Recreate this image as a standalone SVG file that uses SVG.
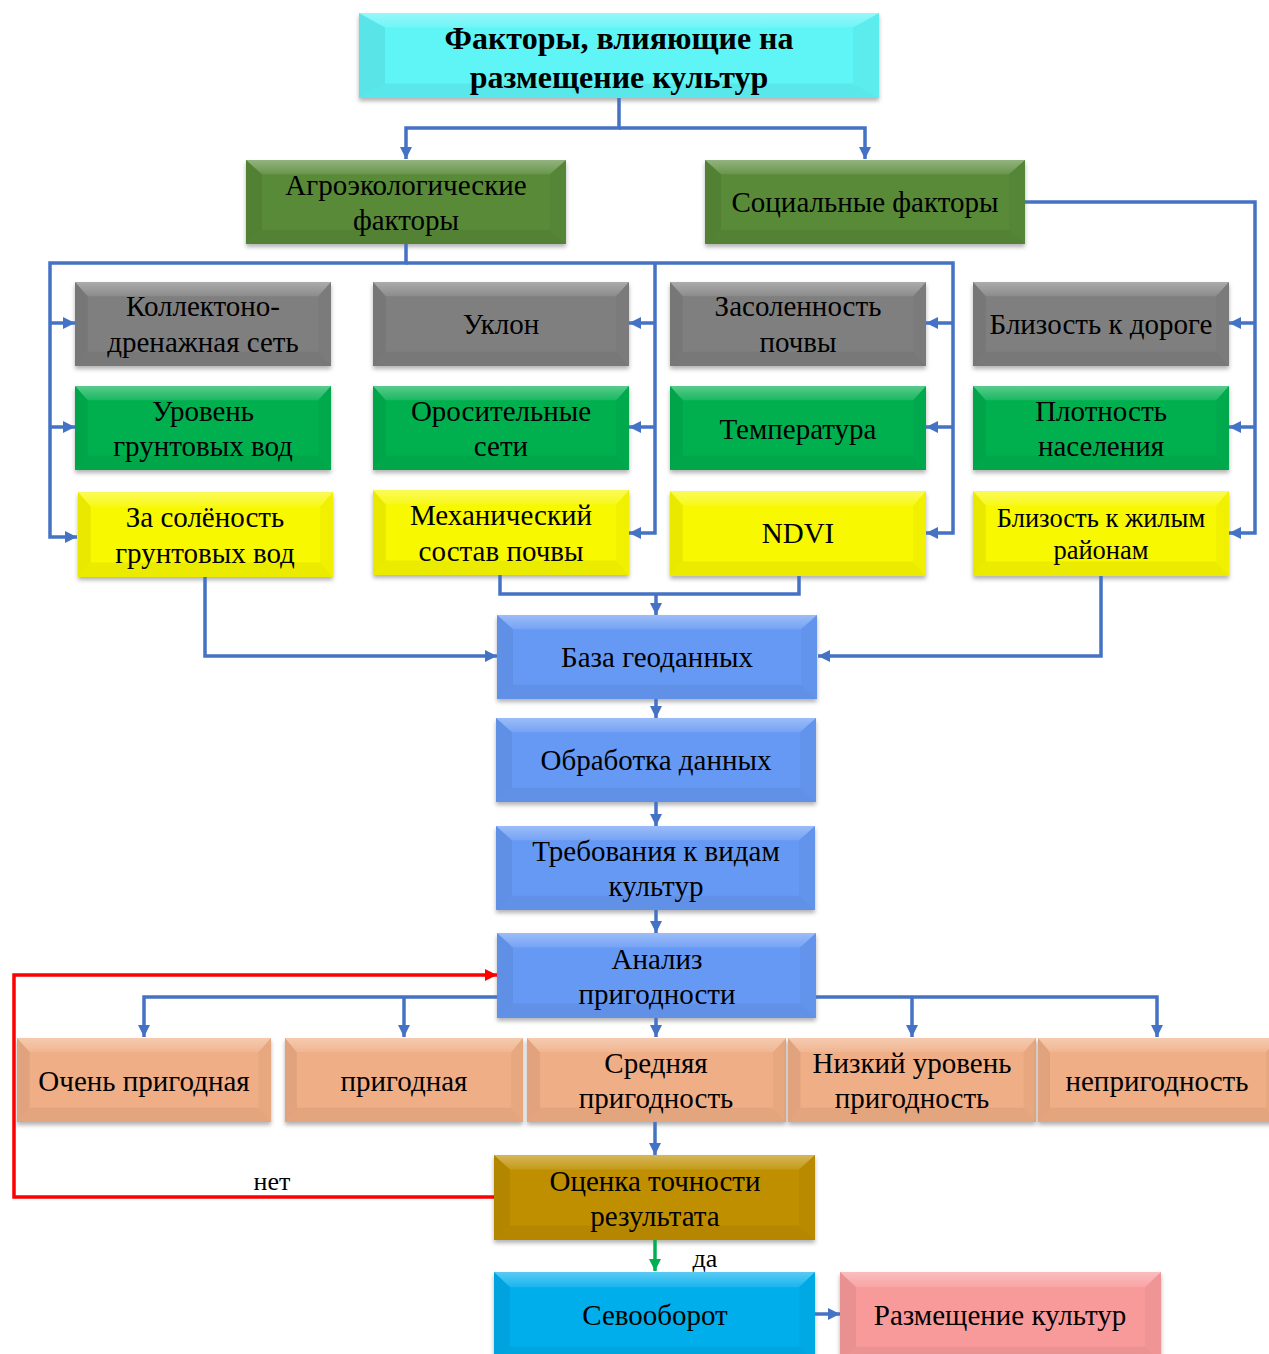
<svg xmlns="http://www.w3.org/2000/svg" xmlns:xlink="http://www.w3.org/1999/xlink" width="1269" height="1354" viewBox="0 0 1269 1354">
<style>
.t{font-family:"Liberation Serif","Times New Roman",serif;font-size:29px;text-anchor:middle;fill:#000}
.tb{font-weight:bold;font-size:32px}
.c{fill:none;stroke:#4472C4;stroke-width:3.5}
.ca{fill:none;stroke:#4472C4;stroke-width:3.5;marker-end:url(#ab)}
.box{filter:url(#sh)}
.cyan{fill:#5FF4F6}.olive{fill:#588A37}.gray{fill:#7F7F7F}.green{fill:#00B050}.yellow{fill:#F8F800}
.blue{fill:#6699F4}.peach{fill:#EFAE85}.gold{fill:#BF8F00}.sky{fill:#00AEEC}.pink{fill:#F89A9A}
</style>
<defs>
<filter id="sh" x="-5%" y="-10%" width="110%" height="130%"><feDropShadow dx="0" dy="3" stdDeviation="2" flood-color="#000" flood-opacity="0.3"/></filter>
<linearGradient id="topg" x1="0" y1="0" x2="0" y2="1"><stop offset="0" stop-color="#fff" stop-opacity="0.35"/><stop offset="1" stop-color="#fff" stop-opacity="0.1"/></linearGradient>
<symbol id="bv" viewBox="0 0 100 100" preserveAspectRatio="none">
<polygon points="0,0 100,0 95,17 5,17" fill="url(#topg)"/>
<polygon points="0,100 100,100 95,83 5,83" fill="#000" fill-opacity="0.05"/>
<polygon points="0,0 5,17 5,83 0,100" fill="#000" fill-opacity="0.06"/>
<polygon points="100,0 95,17 95,83 100,100" fill="#000" fill-opacity="0.03"/>
</symbol>
<marker id="ab" viewBox="0 0 12 12" refX="12" refY="6" markerWidth="12" markerHeight="12" markerUnits="userSpaceOnUse" orient="auto"><path d="M0,0 L12,6 L0,12 z" fill="#4472C4"/></marker>
<marker id="ar" viewBox="0 0 12 12" refX="12" refY="6" markerWidth="12" markerHeight="12" markerUnits="userSpaceOnUse" orient="auto"><path d="M0,0 L12,6 L0,12 z" fill="#FF0000"/></marker>
<marker id="ag" viewBox="0 0 12 12" refX="12" refY="6" markerWidth="12" markerHeight="12" markerUnits="userSpaceOnUse" orient="auto"><path d="M0,0 L12,6 L0,12 z" fill="#00B050"/></marker>
</defs>

<g id="title"><rect class="box cyan" x="359" y="13" width="520" height="85"/><use href="#bv" x="359" y="13" width="520" height="85"/>
<text class="t tb" x="619" y="49">Факторы, влияющие на</text><text class="t tb" x="619" y="88">размещение культур</text></g>

<g id="agro"><rect class="box olive" x="246" y="160" width="320" height="84"/><use href="#bv" x="246" y="160" width="320" height="84"/>
<text class="t" x="406" y="195">Агроэкологические</text><text class="t" x="406" y="230">факторы</text></g>
<g id="social"><rect class="box olive" x="705" y="160" width="320" height="84"/><use href="#bv" x="705" y="160" width="320" height="84"/>
<text class="t" x="865" y="212">Социальные факторы</text></g>

<g id="kollektor"><rect class="box gray" x="75" y="282" width="256" height="84"/><use href="#bv" x="75" y="282" width="256" height="84"/>
<text class="t" x="203" y="316">Коллектоно-</text><text class="t" x="203" y="352">дренажная сеть</text></g>
<g id="uklon"><rect class="box gray" x="373" y="282" width="256" height="84"/><use href="#bv" x="373" y="282" width="256" height="84"/>
<text class="t" x="501" y="334">Уклон</text></g>
<g id="zasol"><rect class="box gray" x="670" y="282" width="256" height="84"/><use href="#bv" x="670" y="282" width="256" height="84"/>
<text class="t" x="798" y="316">Засоленность</text><text class="t" x="798" y="352">почвы</text></g>
<g id="doroga"><rect class="box gray" x="973" y="282" width="256" height="84"/><use href="#bv" x="973" y="282" width="256" height="84"/>
<text class="t" x="1101" y="334">Близость к дороге</text></g>

<g id="uroven"><rect class="box green" x="75" y="386" width="256" height="84"/><use href="#bv" x="75" y="386" width="256" height="84"/>
<text class="t" x="203" y="421">Уровень</text><text class="t" x="203" y="456">грунтовых  вод</text></g>
<g id="orosit"><rect class="box green" x="373" y="386" width="256" height="84"/><use href="#bv" x="373" y="386" width="256" height="84"/>
<text class="t" x="501" y="421">Оросительные</text><text class="t" x="501" y="456">сети</text></g>
<g id="temp"><rect class="box green" x="670" y="386" width="256" height="84"/><use href="#bv" x="670" y="386" width="256" height="84"/>
<text class="t" x="798" y="439">Температура</text></g>
<g id="plotn"><rect class="box green" x="973" y="386" width="256" height="84"/><use href="#bv" x="973" y="386" width="256" height="84"/>
<text class="t" x="1101" y="421">Плотность</text><text class="t" x="1101" y="456">населения</text></g>

<g id="zasolgr"><rect class="box yellow" x="78" y="492" width="255" height="85"/><use href="#bv" x="78" y="492" width="255" height="85"/>
<text class="t" x="205" y="527">За солёность</text><text class="t" x="205" y="563">грунтовых  вод</text></g>
<g id="mech"><rect class="box yellow" x="373" y="490" width="256" height="85"/><use href="#bv" x="373" y="490" width="256" height="85"/>
<text class="t" x="501" y="525">Механический</text><text class="t" x="501" y="561">состав почвы</text></g>
<g id="ndvi"><rect class="box yellow" x="670" y="491" width="256" height="85"/><use href="#bv" x="670" y="491" width="256" height="85"/>
<text class="t" x="798" y="543">NDVI</text></g>
<g id="zhil"><rect class="box yellow" x="973" y="491" width="256" height="85"/><use href="#bv" x="973" y="491" width="256" height="85"/>
<text class="t" x="1101" y="527" style="font-size:26.5px">Близость к жилым</text><text class="t" x="1101" y="559" style="font-size:26.5px">районам</text></g>

<g id="baza"><rect class="box blue" x="497" y="615" width="320" height="84"/><use href="#bv" x="497" y="615" width="320" height="84"/>
<text class="t" x="657" y="667">База геоданных</text></g>
<g id="obrab"><rect class="box blue" x="496" y="718" width="320" height="84"/><use href="#bv" x="496" y="718" width="320" height="84"/>
<text class="t" x="656" y="770">Обработка данных</text></g>
<g id="treb"><rect class="box blue" x="496" y="826" width="319" height="84"/><use href="#bv" x="496" y="826" width="319" height="84"/>
<text class="t" x="656" y="861">Требования к видам</text><text class="t" x="656" y="896">культур</text></g>
<g id="analiz"><rect class="box blue" x="497" y="933" width="319" height="85"/><use href="#bv" x="497" y="933" width="319" height="85"/>
<text class="t" x="657" y="969">Анализ</text><text class="t" x="657" y="1004">пригодности</text></g>

<g id="ochen"><rect class="box peach" x="17" y="1038" width="254" height="84"/><use href="#bv" x="17" y="1038" width="254" height="84"/>
<text class="t" x="144" y="1091">Очень пригодная</text></g>
<g id="prig"><rect class="box peach" x="285" y="1038" width="238" height="84"/><use href="#bv" x="285" y="1038" width="238" height="84"/>
<text class="t" x="404" y="1091">пригодная</text></g>
<g id="sred"><rect class="box peach" x="527" y="1038" width="259" height="84"/><use href="#bv" x="527" y="1038" width="259" height="84"/>
<text class="t" x="656" y="1073">Средняя</text><text class="t" x="656" y="1108">пригодность</text></g>
<g id="nizk"><rect class="box peach" x="788" y="1038" width="248" height="84"/><use href="#bv" x="788" y="1038" width="248" height="84"/>
<text class="t" x="912" y="1073">Низкий уровень</text><text class="t" x="912" y="1108">пригодность</text></g>
<g id="neprig"><rect class="box peach" x="1038" y="1038" width="240" height="84"/><use href="#bv" x="1038" y="1038" width="240" height="84"/>
<text class="t" x="1157" y="1091">непригодность</text></g>

<g id="ocenka"><rect class="box gold" x="494" y="1155" width="321" height="85"/><use href="#bv" x="494" y="1155" width="321" height="85"/>
<text class="t" x="655" y="1191">Оценка точности</text><text class="t" x="655" y="1226">результата</text></g>
<g id="sevo"><rect class="box sky" x="494" y="1272" width="321" height="90"/><use href="#bv" x="494" y="1272" width="321" height="90"/>
<text class="t" x="655" y="1325">Севооборот</text></g>
<g id="razm"><rect class="box pink" x="840" y="1272" width="321" height="90"/><use href="#bv" x="840" y="1272" width="321" height="90"/>
<text class="t" x="1000" y="1325">Размещение культур</text></g>

<g id="connectors">
<path class="ca" d="M619,98 V128 H406 V159"/>
<path class="ca" d="M619,128 H865 V159"/>
<path class="ca" d="M406,244 V263 H50 V537 H77"/>
<path class="ca" d="M50,323 H75"/>
<path class="ca" d="M50,427 H75"/>
<path class="ca" d="M406,263 H953 V533 H926"/>
<path class="ca" d="M953,323 H926"/>
<path class="ca" d="M953,427 H926"/>
<path class="ca" d="M655,263 V533 H629"/>
<path class="ca" d="M655,323 H629"/>
<path class="ca" d="M655,427 H629"/>
<path class="ca" d="M1025,202 H1255 V533 H1229"/>
<path class="ca" d="M1255,323 H1229"/>
<path class="ca" d="M1255,427 H1229"/>
<path class="ca" d="M205,577 V656 H497"/>
<path class="ca" d="M1101,576 V656 H818"/>
<path class="c" d="M500,575 V594 H799 V576"/>
<path class="ca" d="M656,594 V615"/>
<path class="ca" d="M656,699 V718"/>
<path class="ca" d="M656,802 V826"/>
<path class="ca" d="M656,910 V933"/>
<path class="ca" d="M497,997 H144 V1037"/>
<path class="ca" d="M404,997 V1037"/>
<path class="ca" d="M816,997 H1157 V1037"/>
<path class="ca" d="M912,997 V1037"/>
<path class="ca" d="M656,1018 V1037"/>
<path class="ca" d="M655,1122 V1155"/>
<path d="M494,1197 H14 V975 H497" fill="none" stroke="#FF0000" stroke-width="3.5" marker-end="url(#ar)"/>
<path d="M655,1240 V1271" fill="none" stroke="#00B050" stroke-width="3.5" marker-end="url(#ag)"/>
<path class="ca" d="M815,1314 H840"/>
<text class="t" x="272" y="1190" style="font-size:26px">нет</text>
<text class="t" x="705" y="1267" style="font-size:26px">да</text>
</g>
</svg>
